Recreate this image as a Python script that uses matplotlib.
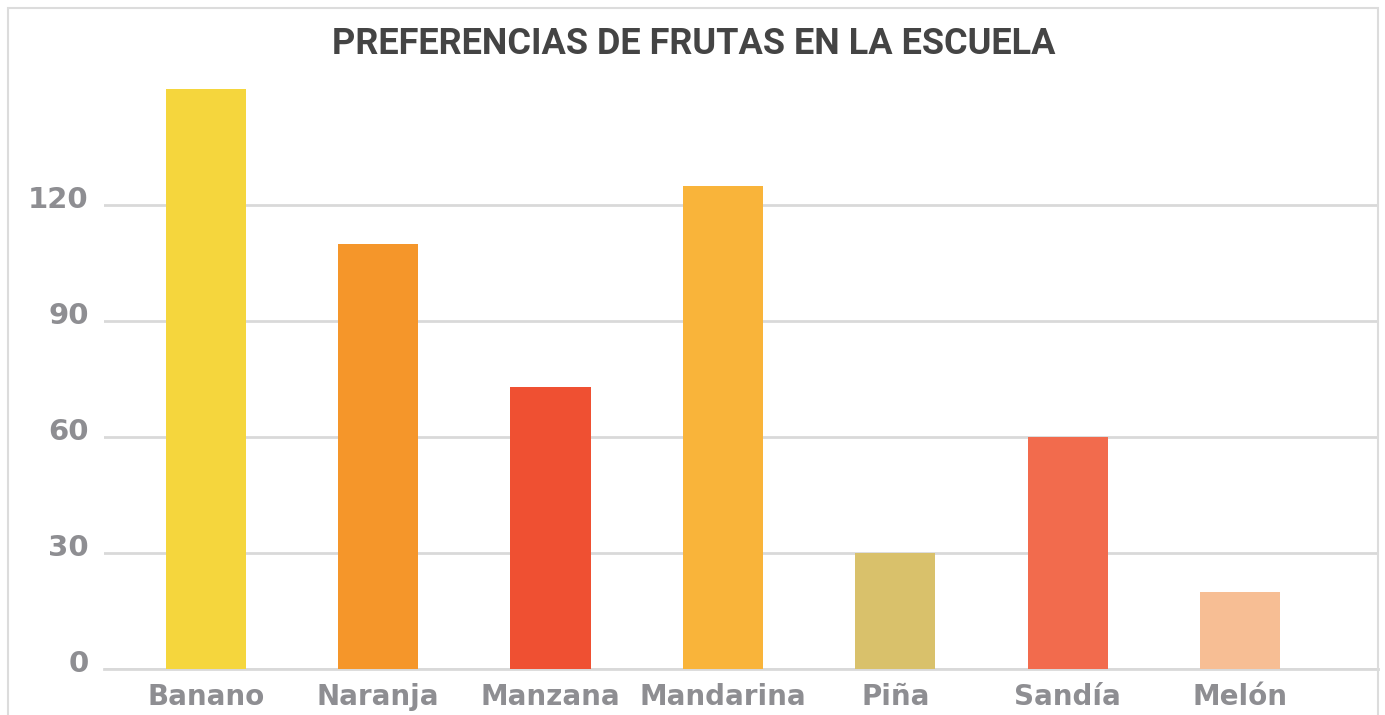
import matplotlib.pyplot as plt
import matplotlib.transforms as mtransforms
from matplotlib.patches import Rectangle

# Data
frutas = ["Banano", "Naranja", "Manzana", "Mandarina", "Piña", "Sandía", "Melón"]
votos = [150, 110, 73, 125, 30, 60, 20]
colores = ["#F5D63D", "#F5962A", "#EF5032", "#F9B43A", "#D9C16B", "#F26B4D", "#F7BE94"]
y_ticks = [0, 30, 60, 90, 120]

TITLE = "PREFERENCIAS DE FRUTAS EN LA ESCUELA"
LABEL_COLOR = "#8E8E92"
GRID_COLOR = "#D9D9D9"

W, H = 1385, 715
fig = plt.figure(figsize=(W / 100, H / 100), dpi=100)

# chart frame
fig.patches.append(Rectangle((8 / W, -0.05), (1378 - 8) / W, 1.05 - 8 / H,
                             transform=fig.transFigure, fill=False,
                             edgecolor="#DCDCDC", linewidth=1.5))

ax = fig.add_axes([104 / W, 1 - 669 / H, (1378 - 104) / W, (669 - 85) / H])
x = range(len(frutas))
ax.bar(x, votos, width=0.465, color=colores, zorder=3)

ax.set_xlim(-0.59, 6.8)
ax.set_ylim(0, 151)
ax.set_yticks(y_ticks)
ax.set_xticks(list(x))
ax.set_xticklabels(frutas)

ax.yaxis.grid(True, color=GRID_COLOR, linewidth=2, zorder=0)
for s in ["top", "right", "left"]:
    ax.spines[s].set_visible(False)
ax.spines["bottom"].set_color(GRID_COLOR)
ax.spines["bottom"].set_linewidth(2)
ax.tick_params(length=0)
ax.tick_params(axis="y", pad=11, labelsize=21, labelcolor=LABEL_COLOR)
ax.tick_params(axis="x", pad=10, labelsize=20, labelcolor=LABEL_COLOR)

offset = mtransforms.ScaledTranslation(0, 8 / 100, fig.dpi_scale_trans)
for lab in ax.get_yticklabels():
    lab.set_fontweight("bold")
    lab.set_transform(lab.get_transform() + offset)
for lab in ax.get_xticklabels():
    lab.set_fontweight("bold")

fig.text(694 / W, 1 - 44 / H, TITLE, ha="center", va="center",
         fontsize=26, fontweight="bold", color="#444444",
         family=["Roboto", "DejaVu Sans"])

fig.savefig("out.png", dpi=100)
